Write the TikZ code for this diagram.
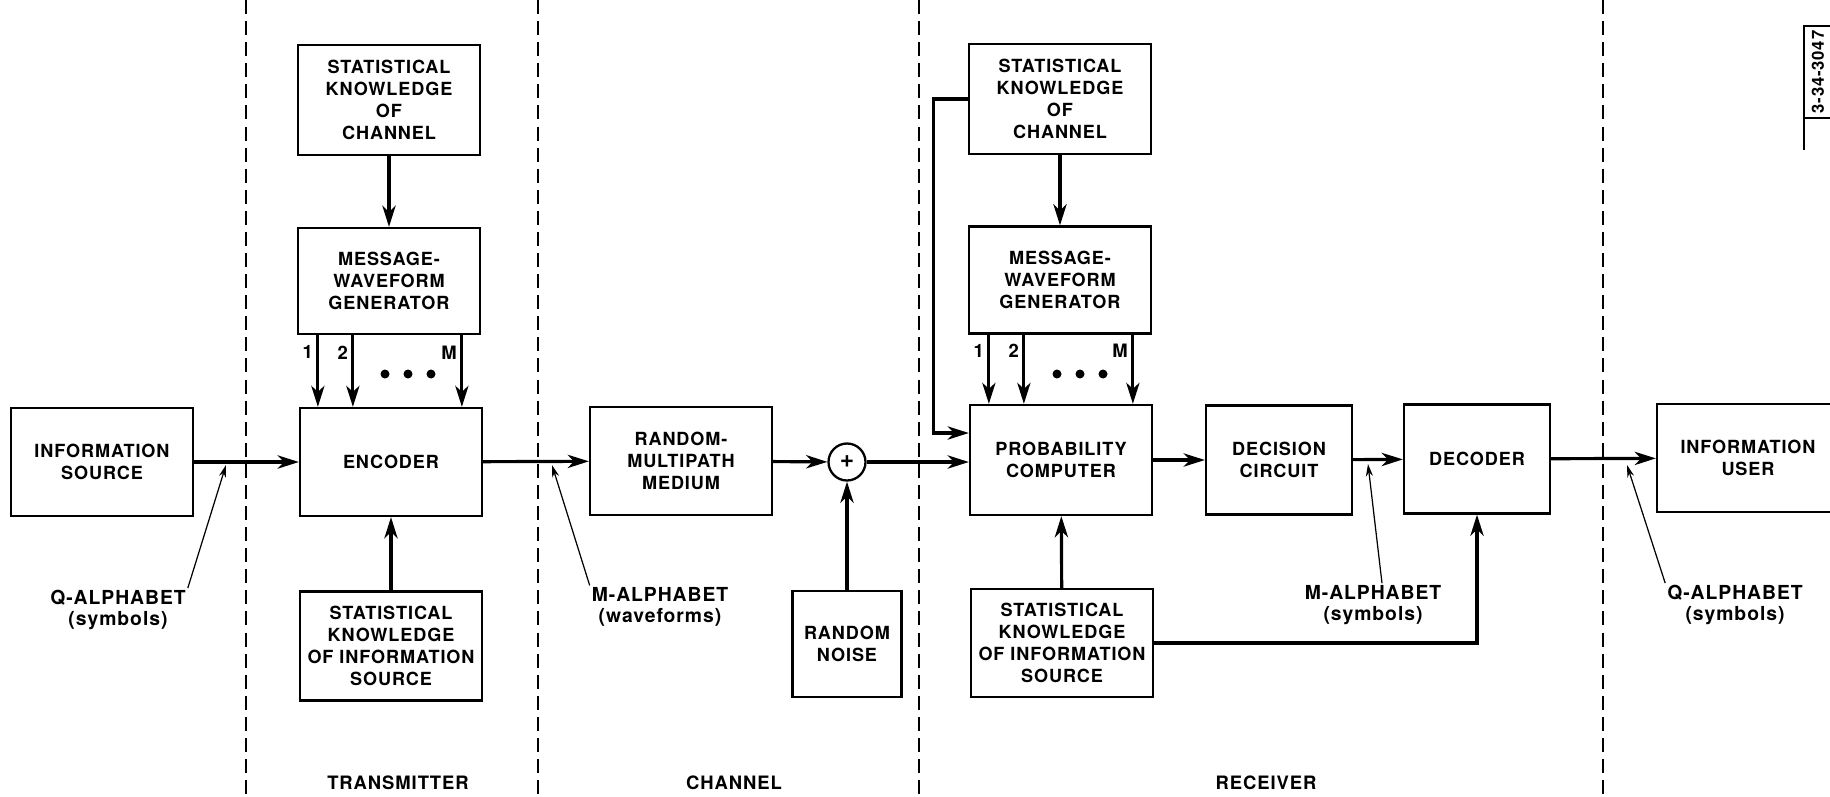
\documentclass[tikz,border=0pt]{standalone}
\usepackage{fontspec}
\setmainfont{TeX Gyre Heros}[LetterSpace=5]
\usetikzlibrary{arrows.meta,positioning}

\tikzset{
  block/.style={draw, line width=1.3pt, align=center, inner sep=0pt,
    font=\bfseries\fontsize{10.3}{12.4}\selectfont},
  wide/.style={block, minimum width=3.64cm, minimum height=2.16cm},
  narrow/.style={block, minimum width=2.92cm, minimum height=2.18cm},
  link/.style={-{Stealth[length=12pt,width=7.5pt,inset=3.5pt]}, line width=1.8pt},
  leader/.style={-{Stealth[length=7pt,width=4pt]}, line width=0.7pt},
  divider/.style={line width=1.1pt, dash pattern=on 8pt off 4pt},
  caption/.style={font=\bfseries\fontsize{11}{12}\selectfont, align=center, inner sep=1pt},
  zone/.style={font=\bfseries\fontsize{10.5}{12}\selectfont, inner sep=1pt},
  wirelabel/.style={font=\bfseries\fontsize{10.5}{12}\selectfont, inner sep=1pt}
}

\begin{document}
\begin{tikzpicture}[x=0.02cm, y=-0.02cm]
  \useasboundingbox (0,0) rectangle (1830,796);

  % zone boundaries
  \foreach \xpos in {246,538,919,1603}
    \draw[divider] (\xpos,0) -- (\xpos,796);

  % transmitter side
  \node[wide] (src) at (102,462) {INFORMATION\\SOURCE};
  \node[wide, minimum height=2.2cm] (tknow) at (389,100)
    {STATISTICAL\\KNOWLEDGE\\OF\\CHANNEL};
  \node[wide, minimum height=2.12cm] (tgen) at (389,281)
    {MESSAGE-\\WAVEFORM\\GENERATOR};
  \node[wide] (enc) at (391,462) {ENCODER};
  \node[wide, minimum height=2.18cm] (tsrc) at (391,646)
    {STATISTICAL\\KNOWLEDGE\\OF INFORMATION\\SOURCE};

  % channel
  \node[wide] (med) at (681,461) {RANDOM-\\MULTIPATH\\MEDIUM};
  \node[draw, circle, line width=1.3pt, minimum size=0.74cm, inner sep=0pt,
    font=\bfseries\fontsize{14}{14}\selectfont] (sum) at (847,462) {+};
  \node[block, minimum width=2.18cm, minimum height=2.12cm] (noise) at (847,644)
    {RANDOM\\NOISE};

  % receiver side
  \node[wide, minimum height=2.2cm] (rknow) at (1060,99)
    {STATISTICAL\\KNOWLEDGE\\OF\\CHANNEL};
  \node[wide, minimum height=2.14cm] (rgen) at (1060,280)
    {MESSAGE-\\WAVEFORM\\GENERATOR};
  \node[wide, minimum height=2.2cm] (prob) at (1061,460) {PROBABILITY\\COMPUTER};
  \node[narrow] (decide) at (1279,460) {DECISION\\CIRCUIT};
  \node[narrow] (decode) at (1477,459) {DECODER};
  \node[wide] (user) at (1748,458) {INFORMATION\\USER};
  \node[wide] (rsrc) at (1062,643)
    {STATISTICAL\\KNOWLEDGE\\OF INFORMATION\\SOURCE};

  % signal path
  \draw[link] (src) -- (enc);
  \draw[link] (tknow) -- (tgen);
  \draw[link] (tsrc) -- (enc);
  \draw[link] (enc) -- (med);
  \draw[link] (med) -- (sum);
  \draw[link] (noise) -- (sum);
  \draw[link] (sum) -- (sum -| prob.west);
  \draw[link] (rknow) -- (rgen);
  \draw[link] (rknow.west) -- ++(-34,0) |- ([yshift=0.54cm]prob.west);
  \draw[link] (rsrc) -- (prob);
  \draw[link] (prob) -- (decide);
  \draw[link] (decide) -- (decode);
  \draw[link] (decode) -- (user);
  \draw[link] (rsrc.east) -| (decode.south);

  % the M waveform lines
  \foreach \gen/\dest in {tgen/enc,rgen/prob} {
    \foreach \dx/\lab in {21/1,56/2,165/M}
      \draw[link] ([xshift=\dx*0.02cm]\gen.south west)
        -- ([xshift=\dx*0.02cm]\gen.south west |- \dest.north)
        node[wirelabel, pos=0.24, left=1pt] {\lab};
  }
  \foreach \xd in {385,408,431,1057,1080,1103}
    \fill (\xd,374) circle[radius=0.09cm];

  % alphabet labels
  \node[caption] (qsrc) at (118,610) {Q-ALPHABET\\(symbols)};
  \coordinate (qsrcpt) at (226,465);
  \draw[leader] (qsrc.north east) -- (qsrcpt);

  \node[caption] (mwave) at (660,607) {M-ALPHABET\\(waveforms)};
  \coordinate (mwavept) at (552,465);
  \draw[leader] (mwave.north west) -- (mwavept);

  \node[caption] (msym) at (1373,605) {M-ALPHABET\\(symbols)};
  \coordinate (msympt) at (1368,464);
  \draw[leader] ([xshift=0.18cm]msym.north) -- (msympt);

  \node[caption] (quser) at (1735,605) {Q-ALPHABET\\(symbols)};
  \coordinate (quserpt) at (1627,465);
  \draw[leader] (quser.north west) -- (quserpt);

  % zone names
  \node[zone] (txzone) at (398,783) {TRANSMITTER};
  \node[zone] (chzone) at (734,783) {CHANNEL};
  \node[zone] (rxzone) at (1266,783) {RECEIVER};

  % drawing number
  \draw[line width=1.2pt] (1850,26) -- (1804,26) -- (1804,150);
  \draw[line width=1.2pt] (1804,118) -- (1850,118);
  \node[rotate=90, font=\bfseries\fontsize{9.5}{10}\selectfont, inner sep=0pt]
    (drawno) at (1818,72) {3-34-3047};
\end{tikzpicture}
\end{document}
